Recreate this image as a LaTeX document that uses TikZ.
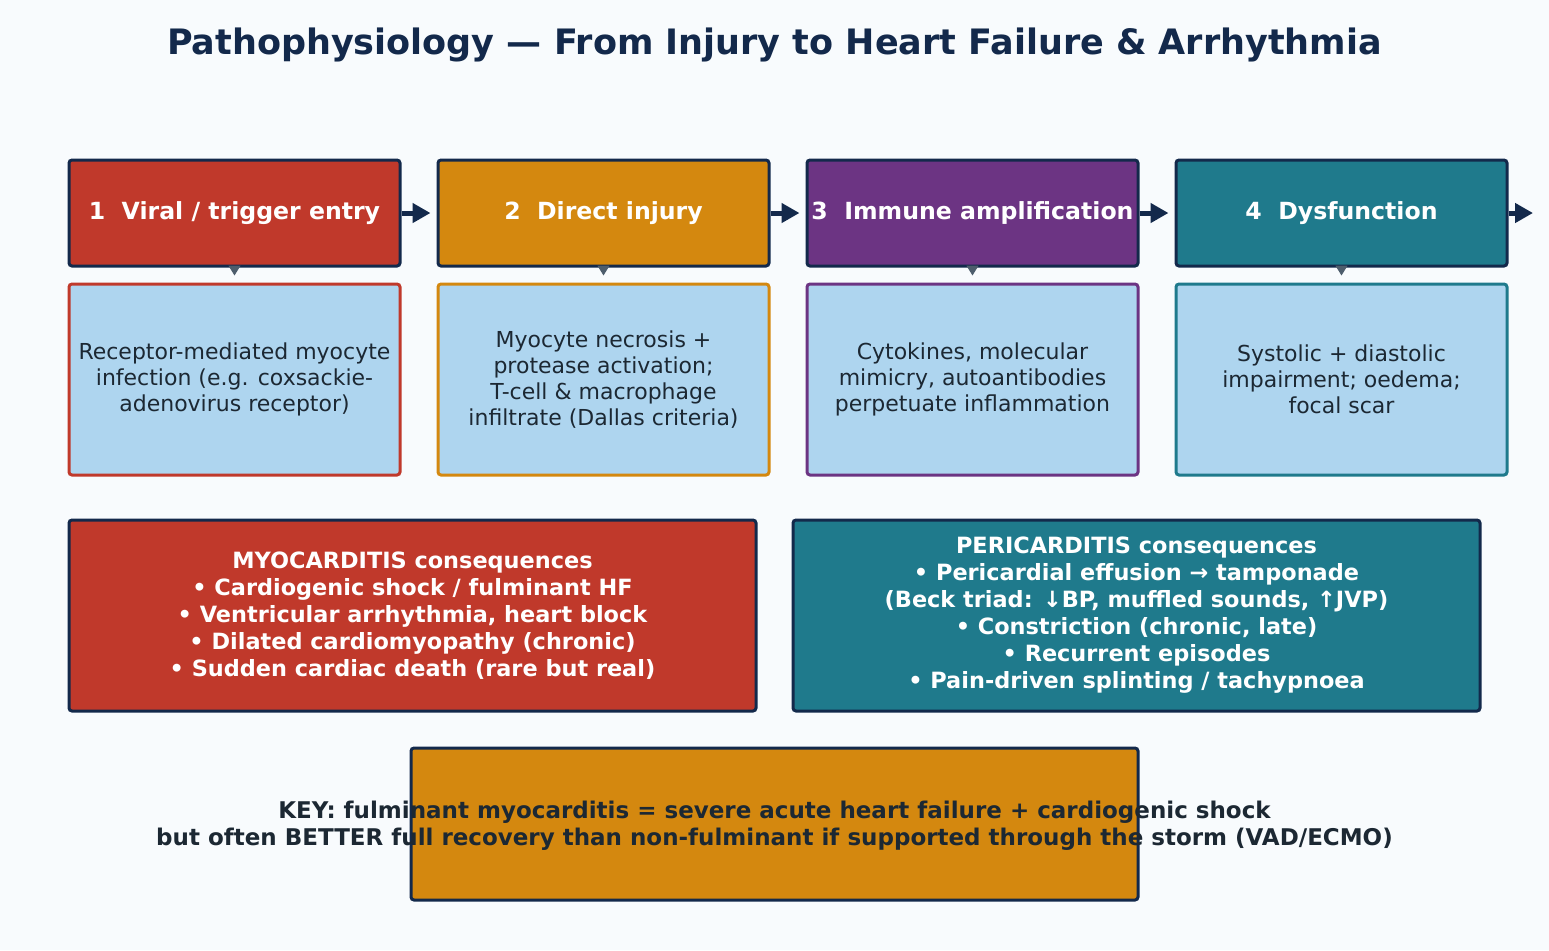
\documentclass[tikz,border=0pt]{standalone}
\usepackage{fontspec}
\setmainfont{DejaVu Sans}
\usetikzlibrary{arrows.meta}
\definecolor{navy}{HTML}{13294B}
\definecolor{slate}{HTML}{4D5D6C}
\definecolor{paleblue}{HTML}{AED5EF}
\definecolor{inktext}{HTML}{1C2833}
\definecolor{pagebg}{HTML}{F8FBFD}
\definecolor{myored}{HTML}{C0392B}
\definecolor{injorange}{HTML}{D4880F}
\definecolor{immpurple}{HTML}{6C3483}
\definecolor{dysteal}{HTML}{1F7A8C}

\begin{document}
\begin{tikzpicture}[x=0.5pt,y=-0.5pt,
  stage/.style={draw=navy,line width=1.5pt,rounded corners=1.5pt,minimum width=165.5pt,minimum height=53pt,inner sep=0pt,text=white,font=\fontsize{11.8}{14}\selectfont\bfseries},
  detail/.style={fill=paleblue,line width=1.5pt,rounded corners=1.5pt,minimum width=165.5pt,minimum height=95.5pt,inner sep=0pt,align=center,text=inktext,font=\fontsize{11}{13}\selectfont},
  cons/.style={draw=navy,line width=1.5pt,rounded corners=1.5pt,minimum width=343.5pt,minimum height=95.5pt,align=center,text=white,font=\fontsize{11.2}{13.5}\selectfont\bfseries},
  flow/.style={navy,line width=2.5pt,-{Triangle[length=9pt,width=9.5pt]},shorten >=3pt},
  drop/.style={slate,line width=0.5pt,-{Triangle[length=5pt,width=6pt]},shorten >=3.5pt}]
  % fondo y titulo
  \fill[pagebg] (0,0) rectangle (1549,950);
  \node[text=navy,font=\fontsize{17.5}{20}\selectfont\bfseries] (title) at (774.5,45) {Pathophysiology — From Injury to Heart Failure \& Arrhythmia};
  % etapas
  \node[stage,fill=myored] (s1) at (234.5,213) {1\ \ Viral / trigger entry};
  \node[stage,fill=injorange] (s2) at (603.5,213) {2\ \ Direct injury};
  \node[stage,fill=immpurple] (s3) at (972.5,213) {3\ \ Immune amplification};
  \node[stage,fill=dysteal] (s4) at (1341.5,213) {4\ \ Dysfunction};
  \coordinate (next) at (1533,213);
  \foreach \a/\b in {s1/s2,s2/s3,s3/s4} \draw[flow] (\a) -- (\b);
  \draw[flow,shorten >=0pt] (s4) -- (next);
  % detalle de cada etapa
  \node[detail,draw=myored] (d1) at (234.5,379.5) {Receptor-mediated myocyte\\infection (e.g. coxsackie-\\adenovirus receptor)};
  \node[detail,draw=injorange] (d2) at (603.5,379.5) {Myocyte necrosis +\\protease activation;\\T-cell \& macrophage\\infiltrate (Dallas criteria)};
  \node[detail,draw=immpurple] (d3) at (972.5,379.5) {Cytokines, molecular\\mimicry, autoantibodies\\perpetuate inflammation};
  \node[detail,draw=dysteal] (d4) at (1341.5,379.5) {Systolic + diastolic\\impairment; oedema;\\focal scar};
  \foreach \i in {1,...,4} \draw[drop] (s\i) -- (d\i);
  % consecuencias
  \node[cons,fill=myored] (myo) at (412.5,615.5) {MYOCARDITIS consequences\\• Cardiogenic shock / fulminant HF\\• Ventricular arrhythmia, heart block\\• Dilated cardiomyopathy (chronic)\\• Sudden cardiac death (rare but real)};
  \node[cons,fill=dysteal] (peri) at (1136.5,615.5) {PERICARDITIS consequences\\• Pericardial effusion → tamponade\\(Beck triad: ↓BP, muffled sounds, ↑JVP)\\• Constriction (chronic, late)\\• Recurrent episodes\\• Pain-driven splinting / tachypnoea};
  % mensaje clave
  \node[draw=navy,fill=injorange,line width=1.5pt,rounded corners=1.5pt,minimum width=363.5pt,minimum height=76pt] (key) at (774.5,824) {};
  \node[align=center,text=inktext,font=\fontsize{11.5}{13.5}\selectfont\bfseries] (keylbl) at ([yshift=-1pt]key.center) {KEY: fulminant myocarditis = severe acute heart failure + cardiogenic shock\\but often BETTER full recovery than non-fulminant if supported through the storm (VAD/ECMO)};
\end{tikzpicture}
\end{document}
